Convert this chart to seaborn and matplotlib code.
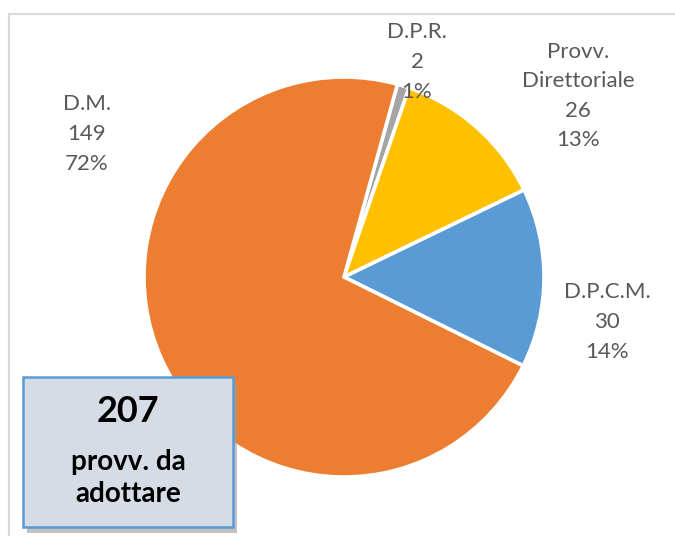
import matplotlib
matplotlib.use("Agg")
import matplotlib.pyplot as plt
import seaborn as sns
from matplotlib.patches import Rectangle

# data (clockwise order starting at the top)
categories = ["D.P.R.", "Provv.\nDirettoriale", "D.P.C.M.", "D.M."]
counts = [2, 26, 30, 149]
shares = ["1%", "13%", "14%", "72%"]
colors = ["#A5A5A5", "#FFC000", "#5B9BD5", "#ED7D31"]
total_label = "207"
total_caption = "provv. da\nadottare"

sns.set_theme(style="white")
plt.rcParams["font.family"] = ["Lato", "DejaVu Sans"]

W, H = 675, 536
fig = plt.figure(figsize=(W / 100, H / 100), dpi=100)


def px(x, y):
    # pixel position (from top-left) -> figure fraction
    return x / W, 1 - y / H


# outer chart frame
fig.patches.append(Rectangle(px(9, 540), (W + 10) / W, 526 / H, transform=fig.transFigure,
                             fill=False, edgecolor="#D9D9D9", linewidth=1.6))

# pie axes: centre (344, 277), radius 200 px
cx, cy, r = 344, 277, 200
ax = fig.add_axes([(cx - r) / W, (H - cy - r) / H, 2 * r / W, 2 * r / H])
ax.pie(counts, colors=colors, startangle=74.5, counterclock=False,
       wedgeprops=dict(edgecolor="white", linewidth=2.6))
ax.set_xlim(-1, 1)
ax.set_ylim(-1, 1)
ax.set_aspect("equal")
ax.axis("off")

# data labels
label_pos = [(417, 62), (578, 96), (607, 322), (87, 134)]
for (x, y), cat, n, s in zip(label_pos, categories, counts, shares):
    fig.text(*px(x, y), f"{cat}\n{n}\n{s}", ha="center", va="center",
             fontsize=16, color="#595959", linespacing=1.6)

# total box with shadow
fig.patches.append(Rectangle(px(27, 533), 210 / W, 150 / H, transform=fig.transFigure,
                             facecolor="#9A9A9A", edgecolor="none", alpha=0.6))
fig.patches.append(Rectangle(px(23, 527), 210 / W, 150 / H, transform=fig.transFigure,
                             facecolor="#D6DCE5", edgecolor="#5B9BD5", linewidth=1.8))
fig.text(*px(128, 411), total_label, ha="center", va="center", fontsize=26,
         fontweight="bold", color="black")
fig.text(*px(128, 478), total_caption, ha="center", va="center", fontsize=20,
         fontweight="bold", color="black", linespacing=1.3)

fig.savefig("out.png", dpi=100)
